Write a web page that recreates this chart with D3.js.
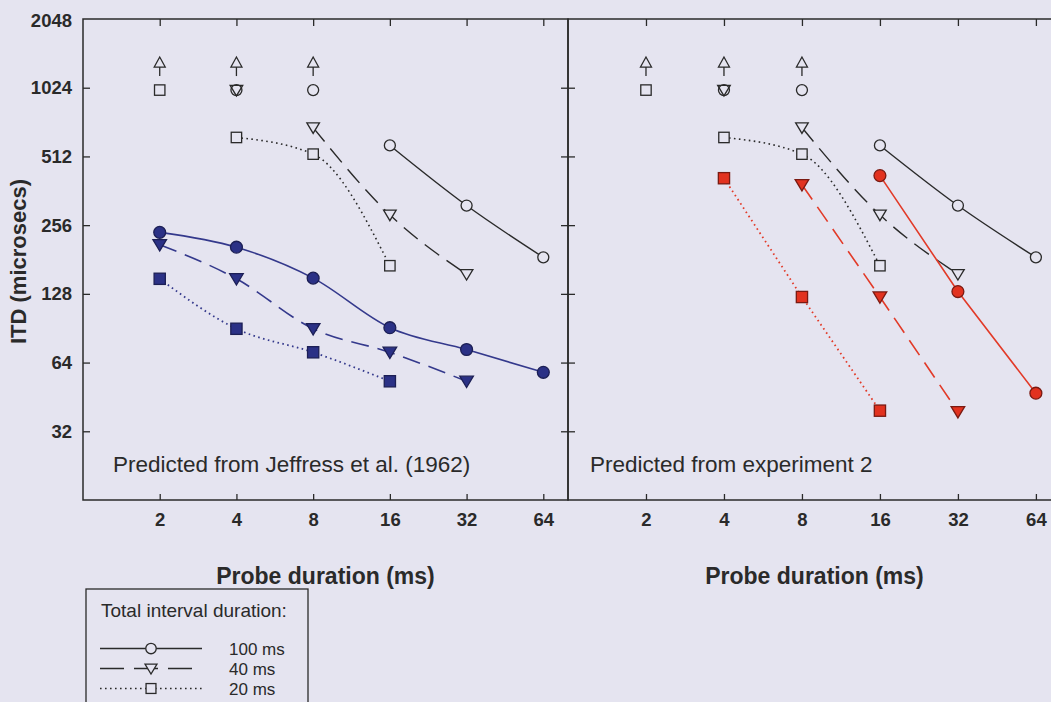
<!DOCTYPE html>
<html>
<head>
<meta charset="utf-8">
<script src="https://cdn.jsdelivr.net/npm/d3@7"></script>
<style>
  html, body { margin: 0; padding: 0; background: #e5e4f0; }
  svg { display: block; font-family: "Liberation Sans", Arial, Helvetica, sans-serif; }
</style>
</head>
<body>
<svg id="chart" width="1051" height="702"></svg>
<script>
// ---- data -------------------------------------------------------------
// probe durations (ms) and ITD ticks (microseconds)
const durationTicks = [2, 4, 8, 16, 32, 64];
const itdTicks = [32, 64, 128, 256, 512, 1024, 2048];

// measured thresholds (open symbols), identical in both panels
const meas100Dur = [16, 32, 64], meas100ITD = [572, 312, 185];
const meas40Dur  = [8, 16, 32],  meas40ITD  = [685, 284, 156];
const meas20Dur  = [4, 8, 16],   meas20ITD  = [620, 524, 170];

// isolated points at the top of the measurable range
const ceil100Dur = [4, 8], ceil100ITD = [1000, 1000];
const ceil40Dur  = [4],    ceil40ITD  = [1000];
const ceil20Dur  = [2],    ceil20ITD  = [1000];

// thresholds beyond the range, drawn as upward arrows
const offScaleDur = [2, 4, 8], offScaleITD = [1300, 1300, 1300];

// predicted from Jeffress et al. (1962)
const jef100Dur = [2, 4, 8, 16, 32, 64], jef100ITD = [238, 205, 150, 91, 73, 58];
const jef40Dur  = [2, 4, 8, 16, 32],     jef40ITD  = [210, 149, 90, 71, 53];
const jef20Dur  = [2, 4, 8, 16],         jef20ITD  = [149, 90, 71, 53];

// predicted from experiment 2
const exp100Dur = [16, 32, 64], exp100ITD = [422, 131, 47];
const exp40Dur  = [8, 16, 32],  exp40ITD  = [385, 124, 39];
const exp20Dur  = [4, 8, 16],   exp20ITD  = [411, 124, 39.4];

const intervalLabels = ["100 ms", "40 ms", "20 ms"];

// ---- layout -----------------------------------------------------------
const BG = "#e5e4f0";
const INK = "#2a2a2a";
const plotTop = 19, plotBottom = 500;
const TICK_FONT = 18.5;
const svg = d3.select("#chart");

const y = d3.scaleLog().base(2).domain([16, 2048]).range([plotBottom, plotTop]);

const zip = (xs, ys) => xs.map((d, i) => ({ dur: d, itd: ys[i] }));

const styles = {
  "100": { dash: null },
  "40":  { dash: "18,9" },
  "20":  { dash: "1.6,3.4" }
};

function marker(g, kind, cx, cy, fill, stroke, s = 1) {
  if (kind === "circle") {
    g.append("circle").attr("cx", cx).attr("cy", cy).attr("r", 5.5 * s)
      .attr("fill", fill).attr("stroke", stroke).attr("stroke-width", 1.3);
  } else if (kind === "square") {
    const h = 5.2 * s;
    g.append("rect").attr("x", cx - h).attr("y", cy - h).attr("width", 2 * h).attr("height", 2 * h)
      .attr("fill", fill).attr("stroke", stroke).attr("stroke-width", 1.3);
  } else if (kind === "tri") {
    g.append("path")
      .attr("d", `M${cx - 6.3 * s},${cy - 4.7 * s}L${cx + 6.3 * s},${cy - 4.7 * s}L${cx},${cy + 5.8 * s}Z`)
      .attr("fill", fill).attr("stroke", stroke).attr("stroke-width", 1.3)
      .attr("stroke-linejoin", "miter");
  } else if (kind === "arrow") {
    g.append("line").attr("x1", cx).attr("x2", cx).attr("y1", cy + 3).attr("y2", cy + 12)
      .attr("stroke", stroke).attr("stroke-width", 1.3);
    g.append("path")
      .attr("d", `M${cx - 5.5},${cy + 3}L${cx + 5.5},${cy + 3}L${cx},${cy - 7}Z`)
      .attr("fill", fill).attr("stroke", stroke).attr("stroke-width", 1.3);
  }
}

const panels = [
  {
    left: 83, width: 485,
    title: "Predicted from Jeffress et al. (1962)",
    titleX: 113,
    pred: [
      { key: "100", kind: "circle", pts: zip(jef100Dur, jef100ITD) },
      { key: "40",  kind: "tri",    pts: zip(jef40Dur, jef40ITD) },
      { key: "20",  kind: "square", pts: zip(jef20Dur, jef20ITD) }
    ],
    fill: "#2b3186", line: "#34398c", mstroke: "#1c1f55",
    curve: d3.curveMonotoneX, yLabels: true
  },
  {
    left: 568, width: 493,
    title: "Predicted from experiment 2",
    titleX: 590,
    pred: [
      { key: "100", kind: "circle", pts: zip(exp100Dur, exp100ITD) },
      { key: "40",  kind: "tri",    pts: zip(exp40Dur, exp40ITD) },
      { key: "20",  kind: "square", pts: zip(exp20Dur, exp20ITD) }
    ],
    fill: "#e2321f", line: "#e23a28", mstroke: "#7a1a12",
    curve: d3.curveLinear, yLabels: false
  }
];

const measured = [
  { key: "100", kind: "circle", pts: zip(meas100Dur, meas100ITD) },
  { key: "40",  kind: "tri",    pts: zip(meas40Dur, meas40ITD) },
  { key: "20",  kind: "square", pts: zip(meas20Dur, meas20ITD) }
];

panels.forEach((p, pi) => {
  const x = d3.scaleLog().base(2).domain([1, 80]).range([p.left, p.left + p.width]);
  const g = svg.append("g");

  // frame
  const right = p.left + p.width;
  g.append("path")
    .attr("d", pi === 0
      ? `M${p.left},${plotTop}H${right}V${plotBottom}H${p.left}Z`
      : `M${right + 10},${plotTop}H${p.left}V${plotBottom}H${right + 10}`)
    .attr("fill", "none").attr("stroke", INK).attr("stroke-width", 1.5);

  // axes with inward ticks
  const styleAxis = sel => {
    sel.select(".domain").remove();
    sel.selectAll(".tick line").attr("stroke", INK).attr("stroke-width", 1.3);
    sel.selectAll("text").attr("fill", INK).attr("font-weight", "bold").attr("font-size", TICK_FONT)
      .attr("font-family", "'Liberation Sans', Arial, sans-serif");
  };
  g.append("g").attr("transform", `translate(0,${plotBottom})`)
    .call(d3.axisBottom(x).tickValues(durationTicks).tickFormat(d3.format("d"))
      .tickSize(-6).tickPadding(13)).call(styleAxis);
  g.append("g").attr("transform", `translate(0,${plotTop})`)
    .call(d3.axisTop(x).tickValues(durationTicks).tickFormat("").tickSize(-7)).call(styleAxis);
  g.append("g").attr("transform", `translate(${p.left},0)`)
    .call(d3.axisLeft(y).tickValues(itdTicks.slice(0, -1))
      .tickFormat(p.yLabels ? d3.format("d") : "").tickSize(-7).tickPadding(11)).call(styleAxis);
  if (pi === 0) {
    g.append("g").attr("transform", `translate(${right},0)`)
      .call(d3.axisRight(y).tickValues(itdTicks.slice(0, -1)).tickFormat("").tickSize(-7)).call(styleAxis);
    // top tick label sits on the frame corner
    g.append("text").attr("x", p.left - 11).attr("y", y(2048) + 2).attr("dy", "0.32em")
      .attr("text-anchor", "end").attr("font-weight", "bold").attr("font-size", TICK_FONT)
      .attr("fill", INK).text(d3.format("d")(itdTicks[itdTicks.length - 1]));
  }

  // x axis title
  g.append("text").attr("x", p.left + p.width / 2).attr("y", 584)
    .attr("text-anchor", "middle").attr("font-weight", "bold").attr("font-size", 23)
    .attr("fill", INK).text("Probe duration (ms)");

  // panel title
  g.append("text").attr("x", p.titleX).attr("y", 472)
    .attr("font-size", 22.5).attr("fill", INK).text(p.title);

  // lines
  const mline = d3.line().x(d => x(d.dur)).y(d => y(d.itd)).curve(d3.curveMonotoneX);
  measured.forEach(s => {
    g.append("path").attr("d", mline(s.pts)).attr("fill", "none")
      .attr("stroke", INK).attr("stroke-width", s.key === "20" ? 1.6 : 1.4)
      .attr("stroke-dasharray", styles[s.key].dash);
  });
  const pline = d3.line().x(d => x(d.dur)).y(d => y(d.itd)).curve(p.curve);
  p.pred.forEach(s => {
    g.append("path").attr("d", pline(s.pts)).attr("fill", "none")
      .attr("stroke", p.line).attr("stroke-width", s.key === "20" ? 1.8 : 1.6)
      .attr("stroke-dasharray", styles[s.key].dash);
  });

  // open markers
  const mg = g.append("g");
  offScaleDur.forEach((d, i) => marker(mg, "arrow", x(d), y(offScaleITD[i]), BG, INK));
  ceil20Dur.forEach((d, i) => marker(mg, "square", x(d), y(ceil20ITD[i]), BG, INK));
  ceil100Dur.forEach((d, i) => marker(mg, "circle", x(d), y(ceil100ITD[i]), BG, INK));
  ceil40Dur.forEach((d, i) => marker(mg, "tri", x(d), y(ceil40ITD[i]), "none", INK));
  measured.forEach(s => s.pts.forEach(d => marker(mg, s.kind, x(d.dur), y(d.itd), BG, INK)));

  // filled prediction markers
  p.pred.forEach(s => s.pts.forEach(d => marker(mg, s.kind, x(d.dur), y(d.itd), p.fill, p.mstroke, 1.08)));
});

// y axis title
svg.append("text").attr("transform", `translate(26,${(plotTop + plotBottom) / 2 + 2}) rotate(-90)`)
  .attr("text-anchor", "middle").attr("font-weight", "bold").attr("font-size", 22)
  .attr("fill", INK).text("ITD (microsecs)");

// ---- legend -------------------------------------------------------------
const lg = svg.append("g");
lg.append("rect").attr("x", 86).attr("y", 589).attr("width", 222).attr("height", 140)
  .attr("fill", "none").attr("stroke", INK).attr("stroke-width", 1.3);
lg.append("text").attr("x", 101).attr("y", 617).attr("font-size", 19).attr("fill", INK)
  .text("Total interval duration:");
measured.forEach((s, i) => {
  const by = 655 + i * 20;
  const ly = by - 6.5;
  lg.append("line").attr("x1", 100).attr("x2", 202).attr("y1", ly).attr("y2", ly)
    .attr("stroke", INK).attr("stroke-width", s.key === "20" ? 1.3 : 1.4)
    .attr("stroke-dasharray", s.key === "40" ? "24,10" : styles[s.key].dash);
  marker(lg, s.kind, 151, ly, BG, INK, 0.95);
  lg.append("text").attr("x", 229).attr("y", by).attr("font-size", 17).attr("fill", INK)
    .text(intervalLabels[i]);
});
</script>
</body>
</html>
